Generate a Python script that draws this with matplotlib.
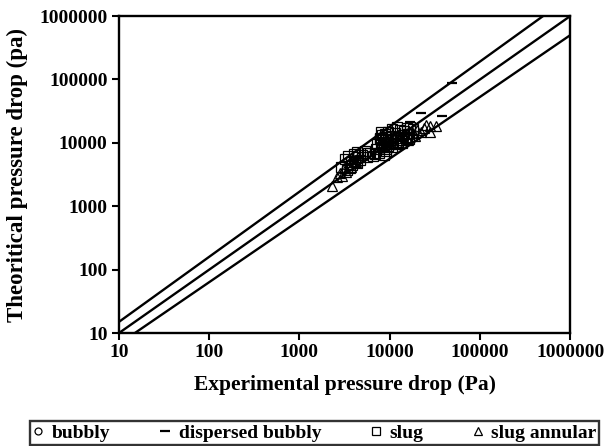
import matplotlib
matplotlib.use("Agg")
import matplotlib.pyplot as plt
from matplotlib.lines import Line2D

plt.rcParams['font.family'] = ['Liberation Serif', 'DejaVu Serif']
plt.rcParams['font.weight'] = 'bold'

# Reference lines (Experimental, Theoretical)
upper_x = [10, 500000]
upper_y = [15, 1000000]
mid_x = [10, 1000000]
mid_y = [10, 1000000]
lower_x = [15, 1000000]
lower_y = [10, 500000]

# Data series
bubbly_x = [9500, 12500, 16000, 19000, 8500, 14000]
bubbly_y = [11000, 9500, 15000, 14000, 8000, 12000]

dispersed_x = [22000, 38000, 49000, 17000]
dispersed_y = [29500, 26500, 87000, 21000]

slug_x = [2900, 3200, 3400, 3500, 3700, 3800, 4000, 4100, 4300, 4500, 4700, 5000,
          5300, 5600, 6000, 6500, 7000, 7300, 7600, 7800, 8000, 8200, 8300, 8500,
          8700, 8800, 9000, 9100, 9300, 9500, 9700, 10000, 10300, 10600, 11000,
          11500, 12000, 12500, 13000, 13500, 14000, 14500, 15000, 15500, 16000,
          16500, 17000, 18000, 8000, 8600, 9200, 7900, 10500, 12000, 13800, 15500,
          6800, 5800, 4400, 3600]
slug_y = [4200, 5500, 3800, 6200, 5000, 4500, 6800, 5200, 7200, 6000, 5300, 6500,
          7500, 6000, 7000, 6200, 8000, 9500, 7000, 12000, 10000, 8500, 13500, 11000,
          9000, 14000, 12500, 7500, 10500, 15000, 9000, 11000, 13000, 8500, 10000,
          14500, 12000, 9500, 16000, 11000, 13500, 15500, 12500, 17000, 14000,
          11500, 18000, 16500, 15000, 6500, 8000, 11500, 16500, 17500, 10000, 12000,
          6800, 7000, 4900, 4000]

slug_annular_x = [2300, 2600, 2800, 3000, 3100, 3300, 3500, 3700, 3900, 4200, 4500,
                  8000, 9000, 10000, 11000, 12500, 14000, 16000, 18000, 20000, 22000,
                  25000, 28000, 33000, 28000, 24000, 19000]
slug_annular_y = [2100, 2900, 3300, 3000, 4000, 3500, 4700, 4200, 5600, 5000, 6000,
                  9000, 11500, 9500, 12000, 10500, 13000, 11000, 14500, 16000, 15000,
                  19000, 18300, 18800, 14700, 17000, 13000]

x_ticks = [10, 100, 1000, 10000, 100000, 1000000]
tick_labels = ['10', '100', '1000', '10000', '100000', '1000000']

fig = plt.figure(figsize=(6.06, 4.46), dpi=100)
ax = fig.add_axes([0.196, 0.253, 0.745, 0.711])

ax.plot(upper_x, upper_y, color='black', lw=1.7, solid_capstyle='butt', zorder=3)
ax.plot(mid_x, mid_y, color='black', lw=1.7, solid_capstyle='butt', zorder=3)
ax.plot(lower_x, lower_y, color='black', lw=1.7, solid_capstyle='butt', zorder=3)

mk = dict(linestyle='none', markerfacecolor='none', markeredgecolor='black',
          markeredgewidth=0.9, zorder=4)
ax.plot(slug_x, slug_y, marker='s', markersize=6.5, **mk)
ax.plot(slug_annular_x, slug_annular_y, marker='^', markersize=6.5, **mk)
ax.plot(bubbly_x, bubbly_y, marker='o', markersize=5, **mk)
ax.plot(dispersed_x, dispersed_y, linestyle='none', marker='_', markersize=7,
        markeredgewidth=1.6, color='black', zorder=4)

ax.set_xscale('log')
ax.set_yscale('log')
ax.set_xlim(10, 1000000)
ax.set_ylim(10, 1000000)
ax.set_xticks(x_ticks)
ax.set_xticklabels(tick_labels)
ax.set_yticks(x_ticks)
ax.set_yticklabels(tick_labels)
ax.minorticks_off()
ax.tick_params(axis='both', which='major', direction='out', length=5, width=1.5,
               labelsize=14, pad=3)
for lab in ax.get_xticklabels() + ax.get_yticklabels():
    lab.set_fontweight('bold')
for sp in ax.spines.values():
    sp.set_linewidth(1.7)

ax.set_xlabel('Experimental pressure drop (Pa)', fontsize=15.5, fontweight='bold', labelpad=10)
ax.set_ylabel('Theoritical pressure drop (pa)', fontsize=16.5, fontweight='bold', labelpad=8)

handles = [
    Line2D([], [], linestyle='none', marker='o', markersize=5, markerfacecolor='none',
           markeredgecolor='black', markeredgewidth=0.9),
    Line2D([], [], linestyle='none', marker='_', markersize=7, markeredgewidth=1.6,
           color='black'),
    Line2D([], [], linestyle='none', marker='s', markersize=5.5, markerfacecolor='none',
           markeredgecolor='black', markeredgewidth=0.9),
    Line2D([], [], linestyle='none', marker='^', markersize=5.5, markerfacecolor='none',
           markeredgecolor='black', markeredgewidth=0.9),
]
labels = ['bubbly', 'dispersed bubbly', 'slug', 'slug annular']
leg = fig.legend(handles, labels, loc='center', bbox_to_anchor=(0.519, 0.029), ncol=4,
                 frameon=True, fancybox=False, prop={'size': 14, 'weight': 'bold'},
                 handlelength=0.6, handletextpad=0.4, columnspacing=2.5,
                 borderpad=0.15, borderaxespad=0)
leg.get_frame().set_edgecolor('black')
leg.get_frame().set_linewidth(1.7)

fig.savefig('out.png', dpi=100)
